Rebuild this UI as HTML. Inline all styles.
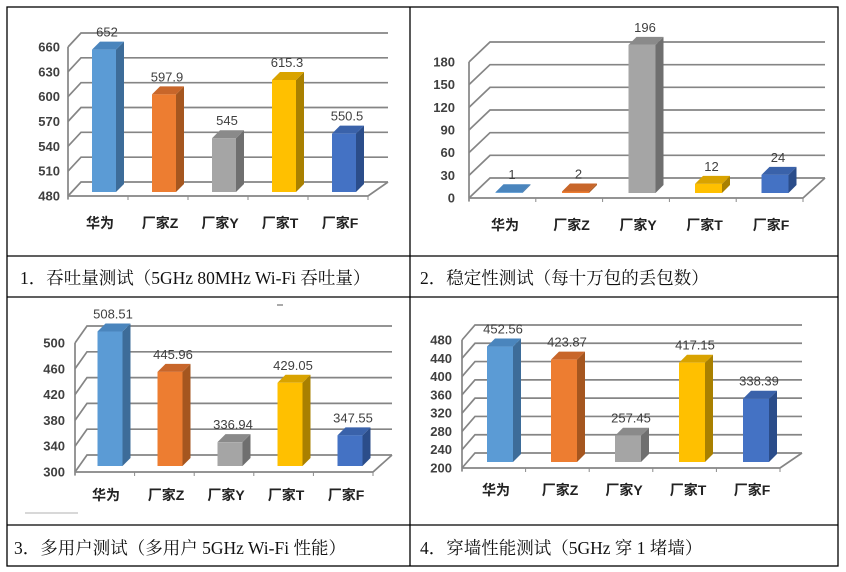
<!DOCTYPE html>
<html><head><meta charset="utf-8"><style>
html,body{margin:0;padding:0;background:#fff;width:846px;height:572px;overflow:hidden}
svg{display:block}
.tick{font:bold 13px "Liberation Sans","Noto Sans CJK SC",sans-serif;fill:#404040}
.val{font:13px "Liberation Sans","Noto Sans CJK SC",sans-serif;fill:#404040}
.cat{font:bold 14px "Liberation Sans","Noto Sans CJK SC",sans-serif;fill:#222}
.cap{font:17.5px "Liberation Serif","Noto Serif CJK SC",serif;fill:#111}
</style></head><body>
<svg id="s" width="846" height="572" viewBox="0 0 846 572" xmlns="http://www.w3.org/2000/svg">
<g stroke="#000" stroke-width="1.3" fill="none">
<rect x="7" y="7" width="831" height="559"/>
<line x1="7" y1="256" x2="838" y2="256"/>
<line x1="7" y1="297" x2="838" y2="297"/>
<line x1="7" y1="525" x2="838" y2="525"/>
<line x1="410" y1="7" x2="410" y2="566"/>
</g>
<text class="cap" x="20" y="284">1．吞吐量测试（5GHz 80MHz Wi-Fi 吞吐量）</text>
<text class="cap" x="420" y="284">2．稳定性测试（每十万包的丢包数）</text>
<text class="cap" x="14" y="554">3．多用户测试（多用户 5GHz Wi-Fi 性能）</text>
<text class="cap" x="420" y="554">4．穿墙性能测试（5GHz 穿 1 堵墙）</text>
<line x1="25" y1="513" x2="78" y2="513" stroke="#ccc" stroke-width="1.5"/>
<line x1="277" y1="305" x2="283" y2="305" stroke="#555" stroke-width="1"/>
</svg>
<script>
const cats = ['华为','厂家Z','厂家Y','厂家T','厂家F'];
const vals1 = [652, 597.9, 545, 615.3, 550.5];
const labels1 = ['652','597.9','545','615.3','550.5'];
const ticks1 = [480, 510, 540, 570, 600, 630, 660];
const vals2 = [1, 2, 196, 12, 24];
const labels2 = ['1','2','196','12','24'];
const ticks2 = [0, 30, 60, 90, 120, 150, 180];
const vals3 = [508.51, 445.96, 336.94, 429.05, 347.55];
const labels3 = ['508.51','445.96','336.94','429.05','347.55'];
const ticks3 = [300, 340, 380, 420, 460, 500];
const vals4 = [452.56, 423.87, 257.45, 417.15, 338.39];
const labels4 = ['452.56','423.87','257.45','417.15','338.39'];
const ticks4 = [200, 240, 280, 320, 360, 400, 440, 480];

const colors = [['#5b9bd5','#3d6c99','#4a85bd'],['#ed7d31','#a5561f','#c8662a'],['#a5a5a5','#6f6f6f','#8a8a8a'],['#ffc000','#a98000','#d9a300'],['#4472c4','#2b4d8a','#3a62aa']];
const NS='http://www.w3.org/2000/svg';
const svg=document.getElementById('s');
function mk(tag,attrs,parent){const e=document.createElementNS(NS,tag);for(const k in attrs)e.setAttribute(k,attrs[k]);parent.appendChild(e);return e;}

function chart(name,vals,labels,ticks,g){
  const grp=mk('g',{},svg);
  
  
  const min=ticks[0], max=ticks[ticks.length-1];
  const k=(g.y0-g.yTop)/(max-min);
  const yv=v=>g.y0-(v-min)*k;
  ticks.forEach((t,i)=>{
    const y=yv(t);
    const gl=mk('path',{d:`M${g.ax},${y} L${g.ax+g.dx},${y-g.dy} L${g.right},${y-g.dy}`,stroke:'#858585','stroke-width':1.7,fill:'none'},grp);
    
    
    const tl=mk('text',{x:g.lr,y:y+4.5,'text-anchor':'end',class:'tick'},grp);
    tl.textContent=t;
    
    
  });
  const ax=mk('path',{d:`M${g.ax},${yv(max)} L${g.ax},${g.y0+3} M${g.ax},${g.y0} L${g.floorRight},${g.y0} L${g.right},${g.y0-g.dy}`,stroke:'#858585','stroke-width':1.7,fill:'none'},grp);
  
  
  for(let i=0;i<=cats.length;i++){
    const x=g.ax+(g.floorRight-g.ax)*i/cats.length;
    const tk=mk('line',{x1:x,y1:g.y0,x2:x,y2:g.y0+4,stroke:'#8a8a8a','stroke-width':1},grp);
    
    
  }
  cats.forEach((c,i)=>{
    const cx=g.c0+g.sp*i, w=g.w, x=cx-w/2;
    const h=Math.max(0,(vals[i]-min)*k);
    const yb=g.bottom, yt=yb-h, d=g.bd;
    const col=colors[i];
    const bar=mk('g',{},grp);
    
    
    mk('path',{d:`M${x+w},${yb} L${x+w+d},${yb-d} L${x+w+d},${yt-d} L${x+w},${yt}Z`,fill:col[1]},bar);
    mk('path',{d:`M${x},${yt} L${x+d},${yt-d} L${x+w+d},${yt-d} L${x+w},${yt}Z`,fill:col[2]},bar);
    if(h>0.5) mk('rect',{x:x,y:yt,width:w,height:h,fill:col[0]},bar);
    const vl=mk('text',{x:cx+3,y:yt-d-5,'text-anchor':'middle',class:'val'},grp);
    vl.textContent=labels[i];
    
    
    const cl=mk('text',{x:cx-4,y:g.labelY,'text-anchor':'middle',class:'cat'},grp);
    cl.textContent=c;
    if(i===0) cl.setAttribute('font-weight','normal');
    
    
  });
}
chart('throughput-chart',vals1,labels1,ticks1,{ax:68,y0:196,yTop:47,dx:13,dy:14,right:388,floorRight:368,c0:104,sp:60,w:24,bottom:192,bd:8,labelY:228,lr:60});
chart('stability-chart',vals2,labels2,ticks2,{ax:469,y0:198,yTop:62,dx:21,dy:20,right:825,floorRight:803,c0:509,sp:66.5,w:27,bottom:193,bd:8,labelY:230,lr:455});
chart('multiuser-chart',vals3,labels3,ticks3,{ax:75,y0:472,yTop:343,dx:12,dy:17,right:392,floorRight:373,c0:110,sp:60,w:25,bottom:466,bd:8,labelY:500,lr:65});
chart('wall-chart',vals4,labels4,ticks4,{ax:462,y0:468,yTop:340,dx:13,dy:15,right:802,floorRight:780,c0:500,sp:64,w:26,bottom:462,bd:8,labelY:495,lr:452});
</script>
</body></html>
